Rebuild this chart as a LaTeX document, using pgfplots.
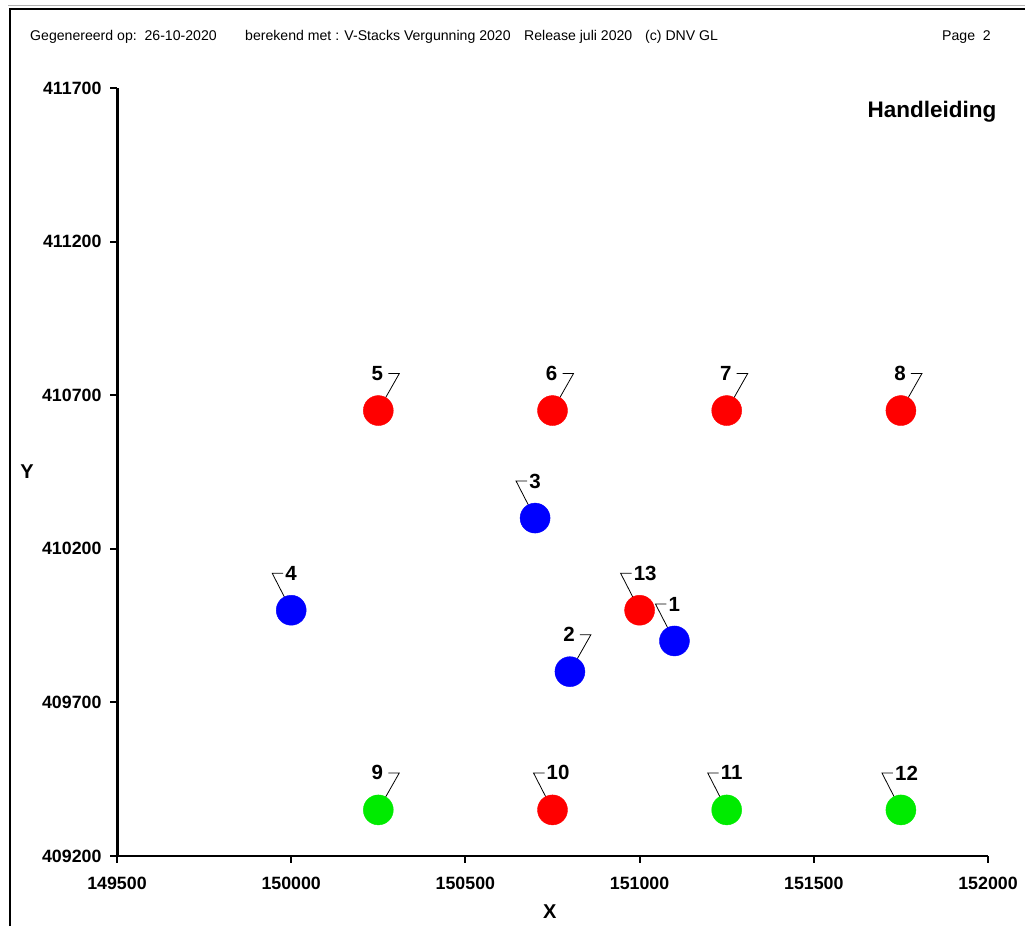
\documentclass[border=0pt]{standalone}
\usepackage{pgfplots}
\pgfplotsset{compat=1.18}
\usepackage{fontspec}
\setmainfont{Liberation Sans}
\definecolor{pred}{RGB}{255,0,0}
\definecolor{pblue}{RGB}{0,0,255}
\definecolor{pgreen}{RGB}{0,235,0}
\newcommand\lblR[3]{%
  \draw[black,line width=0.8pt] (axis cs:#1,#2) -- ++(21pt,37pt) -- ++(-11pt,0pt);
  \node[anchor=east,inner sep=0pt,shift={(5pt,37pt)},font=\bfseries\fontsize{20.5}{20.5}\selectfont] at (axis cs:#1,#2) {#3};}
\newcommand\lblL[3]{%
  \draw[black,line width=0.8pt] (axis cs:#1,#2) -- ++(-19pt,37pt) -- ++(11pt,0pt);
  \node[anchor=west,inner sep=0pt,shift={(-6pt,37pt)},font=\bfseries\fontsize{20.5}{20.5}\selectfont] at (axis cs:#1,#2) {#3};}
\begin{document}
\begin{tikzpicture}
\useasboundingbox (0pt,0pt) rectangle (1025pt,926pt);
\draw[line width=2.5pt] (10pt,0pt) -- (10pt,917pt) -- (1025pt,917pt);
\draw[gray!60,line width=1pt] (8pt,920pt) -- (1025pt,920pt);
\begin{scope}[every node/.style={anchor=base west,inner sep=0pt,font=\fontsize{14.1}{14.1}\selectfont}]
\node at (30pt,885pt) {Gegenereerd op:\ \ 26-10-2020};
\node at (245pt,885pt) {berekend met : V-Stacks Vergunning 2020};
\node at (524pt,885pt) {Release juli 2020};
\node at (645pt,885pt) {(c) DNV GL};
\node at (942pt,885pt) {Page\ \ 2};
\end{scope}
\node[font=\bfseries\fontsize{22.5}{22.5}\selectfont] at (932pt,814pt) {Handleiding};
\begin{axis}[
  at={(117pt,70pt)}, anchor=south west, scale only axis,
  width=871pt, height=768pt,
  xmin=149500, xmax=152000, ymin=409200, ymax=411700,
  xtick={149500,150000,...,152000},
  ytick={409200,409700,...,411700},
  scaled ticks=false,
  axis x line*=bottom, axis y line*=left,
  axis line style={-},
  x axis line style={line width=2pt},
  y axis line style={line width=3pt},
  tick align=outside, major tick length=7pt,
  tick style={black,line width=2pt},
  ticklabel style={font=\bfseries\fontsize{17.8}{17.8}\selectfont},
  xticklabel style={yshift=-11pt,/pgf/number format/.cd, fixed, precision=0, 1000 sep={}, assume math mode=true},
  yticklabel style={xshift=-5pt,/pgf/number format/.cd, fixed, precision=0, 1000 sep={}, assume math mode=true},
  xlabel={X}, ylabel={Y},
  every axis x label/.style={at={(rel axis cs:0.497,-0.0729)},anchor=center,font=\bfseries\fontsize{20}{20}\selectfont},
  every axis y label/.style={at={(rel axis cs:-0.1033,0.501)},anchor=center,font=\bfseries\fontsize{20}{20}\selectfont},
  clip=false,
]
\addplot[only marks, mark=*, mark size=15pt, color=pred, mark options={draw=none,fill=pred}] coordinates {
 (150250,410650) (150750,410650) (151250,410650) (151750,410650)
 (150750,409350) (151000,410000)};
\addplot[only marks, mark=*, mark size=15pt, color=pblue, mark options={draw=none,fill=pblue}] coordinates {
 (151100,409900) (150800,409800) (150700,410300) (150000,410000)};
\addplot[only marks, mark=*, mark size=15pt, color=pgreen, mark options={draw=none,fill=pgreen}] coordinates {
 (150250,409350) (151250,409350) (151750,409350)};
\lblR{150250}{410650}{5}
\lblR{150750}{410650}{6}
\lblR{151250}{410650}{7}
\lblR{151750}{410650}{8}
\lblR{150800}{409800}{2}
\lblR{150250}{409350}{9}
\lblL{150700}{410300}{3}
\lblL{150000}{410000}{4}
\lblL{151000}{410000}{13}
\lblL{151100}{409900}{1}
\lblL{150750}{409350}{10}
\lblL{151250}{409350}{11}
\lblL{151750}{409350}{12}
\end{axis}
\end{tikzpicture}
\end{document}
